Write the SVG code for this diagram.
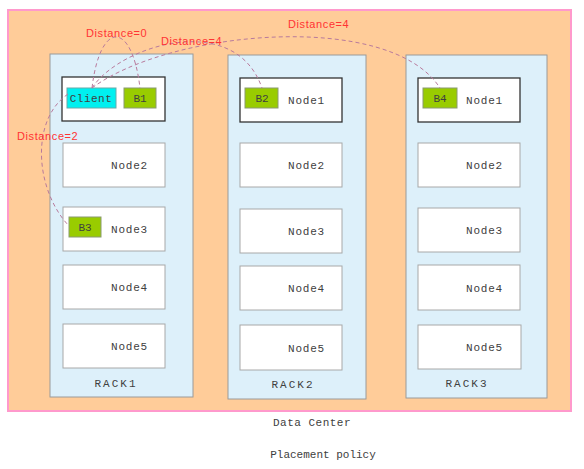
<svg xmlns="http://www.w3.org/2000/svg" width="584" height="469" viewBox="0 0 584 469">
<style>
.rack{fill:#DDF0FA;stroke:#9a9a9a;stroke-width:1}
.node{fill:#fff;stroke:#a8a8a8;stroke-width:1}
.node1{fill:#fff;stroke:#333;stroke-width:1.3}
.blk{fill:#99CC00;stroke:#8a9a70;stroke-width:1}
.cli{fill:#00F0F0;stroke:#6aa;stroke-width:1}
.t{font-family:"Liberation Mono","DejaVu Sans Mono",monospace;font-size:11px;fill:#404040;letter-spacing:0.8px}
.lab{font-family:"Liberation Sans",Arial,sans-serif;font-size:11px;fill:#FF3333;letter-spacing:0.6px}
.cap{font-family:"Liberation Mono","DejaVu Sans Mono",monospace;font-size:11px;fill:#404040;text-anchor:middle}
.con{fill:none;stroke:#B87A9C;stroke-width:1;stroke-dasharray:4,3}
</style>
<rect width="584" height="469" fill="#fff"/>
<g id="datacenter">
<rect x="8" y="10" width="563" height="401" fill="#FFCC99" stroke="#FF99CC" stroke-width="2"/>
<text class="cap" x="312" y="426" font-size="10" letter-spacing="0.5">Data Center</text>
</g>
<g id="rack1">
<rect class="rack" x="50" y="54" width="143" height="343"/>
<text class="cap" x="116" y="387" letter-spacing="2">RACK1</text>
</g>
<g id="rack2">
<rect class="rack" x="228" y="55" width="138" height="344"/>
<text class="cap" x="293" y="388" letter-spacing="2">RACK2</text>
</g>
<g id="rack3">
<rect class="rack" x="406" y="55" width="141" height="343"/>
<text class="cap" x="467" y="387" letter-spacing="2">RACK3</text>
</g>
<g id="r1n1"><rect class="node1" x="62" y="77" width="103" height="44"/></g>
<g id="r1n2"><rect class="node" x="63" y="143" width="102" height="44"/><text class="t" x="111" y="169">Node2</text></g>
<g id="r1n3"><rect class="node" x="63" y="207" width="102" height="44"/><text class="t" x="111" y="233">Node3</text></g>
<g id="r1n4"><rect class="node" x="63" y="265" width="102" height="44"/><text class="t" x="111" y="291">Node4</text></g>
<g id="r1n5"><rect class="node" x="63" y="324" width="102" height="44"/><text class="t" x="111" y="350">Node5</text></g>
<g id="r2n1"><rect class="node1" x="240" y="78" width="102" height="44"/><text class="t" x="288" y="104">Node1</text></g>
<g id="r2n2"><rect class="node" x="240" y="143" width="102" height="44"/><text class="t" x="288" y="169">Node2</text></g>
<g id="r2n3"><rect class="node" x="240" y="209" width="102" height="44"/><text class="t" x="288" y="235">Node3</text></g>
<g id="r2n4"><rect class="node" x="240" y="266" width="102" height="44"/><text class="t" x="288" y="292">Node4</text></g>
<g id="r2n5"><rect class="node" x="240" y="325" width="102" height="45"/><text class="t" x="288" y="352">Node5</text></g>
<g id="r3n1"><rect class="node1" x="418" y="78" width="102" height="44"/><text class="t" x="466" y="104">Node1</text></g>
<g id="r3n2"><rect class="node" x="418" y="143" width="102" height="44"/><text class="t" x="466" y="169">Node2</text></g>
<g id="r3n3"><rect class="node" x="418" y="208" width="102" height="44"/><text class="t" x="466" y="234">Node3</text></g>
<g id="r3n4"><rect class="node" x="418" y="265" width="102" height="45"/><text class="t" x="466" y="292">Node4</text></g>
<g id="r3n5"><rect class="node" x="418" y="325" width="103" height="44"/><text class="t" x="466" y="351">Node5</text></g>
<g id="client"><rect class="cli" x="67" y="88" width="49" height="20"/><text class="cap" x="91" y="102" letter-spacing="0.5">Client</text></g>
<g id="b1"><rect class="blk" x="124" y="88" width="32" height="20"/><text class="cap" x="140" y="102">B1</text></g>
<g id="b2"><rect class="blk" x="245" y="88" width="33" height="20"/><text class="cap" x="262" y="102">B2</text></g>
<g id="b4"><rect class="blk" x="423" y="88" width="34" height="20"/><text class="cap" x="440" y="102">B4</text></g>
<g id="b3"><rect class="blk" x="69" y="217" width="32" height="20"/><text class="cap" x="85" y="231">B3</text></g>
<g id="connectors">
<path class="con" d="M92,88 C100,20 132,20 140,88"/>
<path class="con" d="M92,88 C120,45 235,10 262,88"/>
<path class="con" d="M92,88 C170,30 390,10 440,88"/>
<path class="con" d="M68,94 C30,120 35,190 69,226"/>
</g>
<g id="labels">
<text class="lab" x="86" y="37">Distance=0</text>
<text class="lab" x="161" y="45">Distance=4</text>
<text class="lab" x="288" y="28">Distance=4</text>
<text class="lab" x="17" y="140">Distance=2</text>
</g>
<text class="cap" x="323" y="458" font-size="10">Placement policy</text>
</svg>
